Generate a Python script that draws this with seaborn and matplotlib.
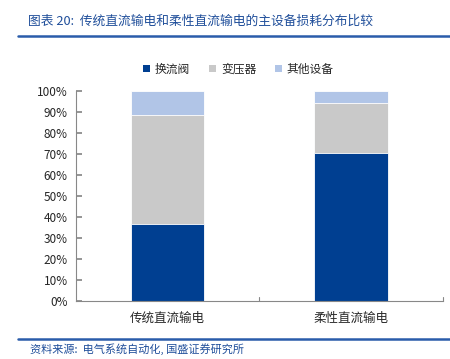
import numpy as np
import pandas as pd
import matplotlib
matplotlib.use('Agg')
import matplotlib.pyplot as plt
import seaborn as sns
from matplotlib.patches import Patch

sns.set_theme(style='white')
plt.rcParams['font.family'] = ['Noto Sans CJK SC', 'DejaVu Sans']

# data (share of losses, %)
categories = ['传统直流输电', '柔性直流输电']
series_names = ['换流阀', '变压器', '其他设备']
valve = [36.7, 70.6]
transformer = [51.8, 23.5]
other = [11.5, 5.9]
colors = ['#003F91', '#C9C9C9', '#B1C5E7']

df = pd.DataFrame({'cat': categories, '换流阀': valve, '变压器': transformer, '其他设备': other})
df['c1'] = df['换流阀']
df['c2'] = df['c1'] + df['变压器']
df['c3'] = df['c2'] + df['其他设备']

fig = plt.figure(figsize=(4.5, 3.59), dpi=100)
ax = fig.add_axes([0.169, 0.1616, 0.815, 0.585])

for col, c in zip(['c3', 'c2', 'c1'], colors[::-1]):
    sns.barplot(data=df, x='cat', y=col, color=c, width=0.4, ax=ax,
                saturation=1, edgecolor='white', linewidth=0.6)

ax.set_ylim(0, 100)
ax.set_xlim(-0.5, 1.5)
ax.set_yticks(np.arange(0, 101, 10))
ax.set_yticklabels([f'{v}%' for v in range(0, 101, 10)], fontsize=8.5)
ax.set_xticks([0, 1])
ax.set_xticklabels(categories, fontsize=9)
ax.set_xlabel('')
ax.set_ylabel('')
for s in ['top', 'right']:
    ax.spines[s].set_visible(False)
for s in ['left', 'bottom']:
    ax.spines[s].set_color('#888888')
    ax.spines[s].set_linewidth(0.8)
ax.tick_params(axis='y', direction='in', length=4, color='#888888', pad=6, left=True)
ax.tick_params(axis='x', length=0, pad=8)
# category separator ticks
for xv in [0.5, 1.5]:
    ax.plot([xv, xv], [0, 1.8], color='#888888', lw=0.8, clip_on=False)

handles = [Patch(facecolor=c, edgecolor='none') for c in colors]
fig.legend(handles, series_names, loc='center', bbox_to_anchor=(0.53, 0.808), ncol=3,
           frameon=False, fontsize=8.5, handlelength=0.6, handleheight=0.6,
           handletextpad=0.4, columnspacing=1.6)

# header and footer
fig.text(0.063, 0.94, '图表 20:  传统直流输电和柔性直流输电的主设备损耗分布比较',
         color='#1F4E9A', fontsize=9.2, style='italic', va='center')
fig.add_artist(plt.Line2D([0.04, 1.0], [0.9, 0.9], color='#2A5CAA', lw=1.8))
fig.add_artist(plt.Line2D([0.04, 1.0], [0.055, 0.055], color='#2A5CAA', lw=1.8))
fig.text(0.067, 0.027, '资料来源:  电气系统自动化, 国盛证券研究所',
         color='#1F4E9A', fontsize=8, style='italic', va='center')

fig.savefig('out.png', dpi=100)
